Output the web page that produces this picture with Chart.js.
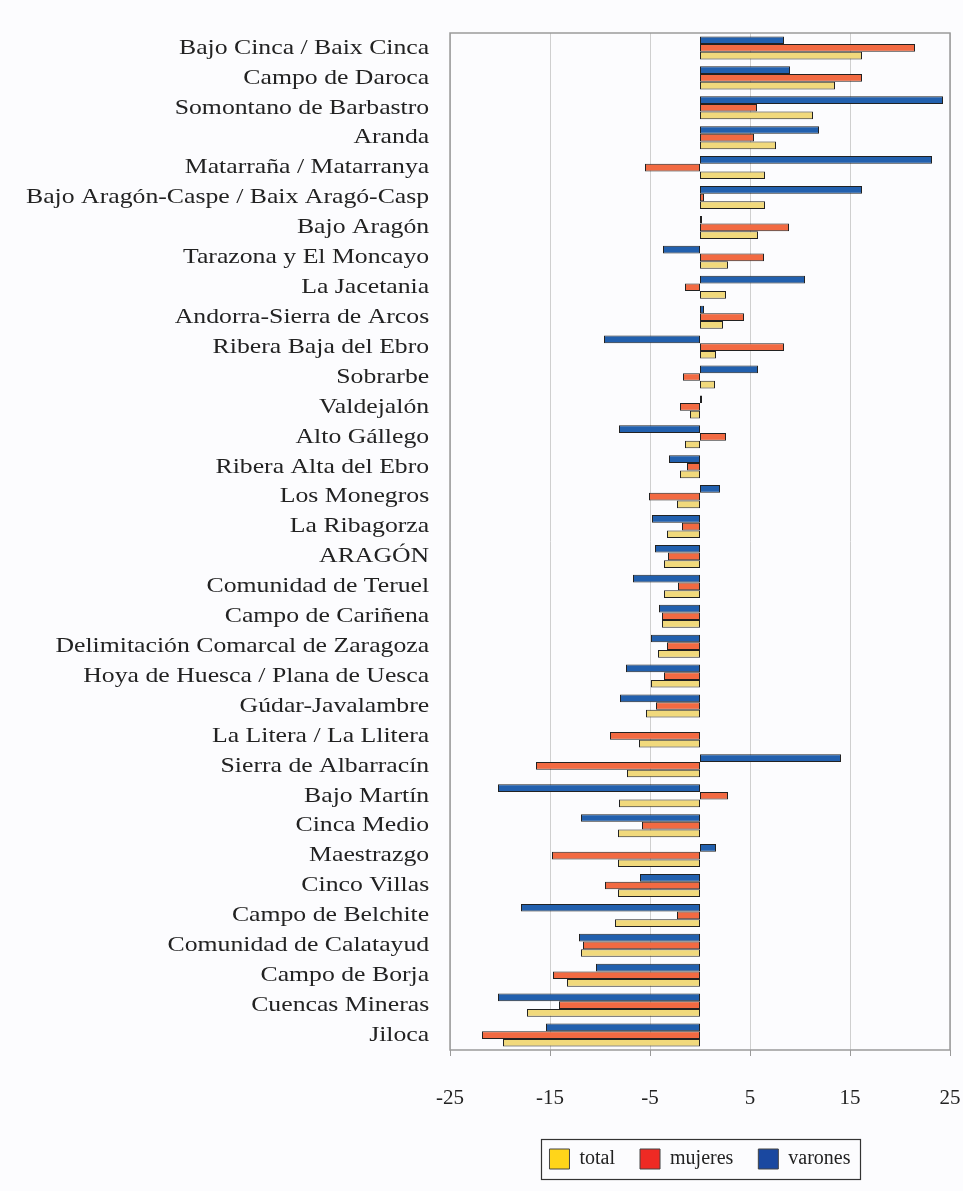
<!DOCTYPE html>
<html>
<head>
<meta charset="utf-8">
<script src="https://cdn.jsdelivr.net/npm/chart.js@4"></script>
<style>
  html, body { margin: 0; padding: 0; background: #fcfcfe; }
  #wrap { width: 963px; height: 1191px; position: relative; }
</style>
</head>
<body>
<div id="wrap"><canvas id="c" width="963" height="1191"></canvas></div>
<script>
const categories = [
  "Bajo Cinca / Baix Cinca", "Campo de Daroca", "Somontano de Barbastro", "Aranda",
  "Matarraña / Matarranya", "Bajo Aragón-Caspe / Baix Aragó-Casp", "Bajo Aragón",
  "Tarazona y El Moncayo", "La Jacetania", "Andorra-Sierra de Arcos", "Ribera Baja del Ebro",
  "Sobrarbe", "Valdejalón", "Alto Gállego", "Ribera Alta del Ebro", "Los Monegros",
  "La Ribagorza", "ARAGÓN", "Comunidad de Teruel", "Campo de Cariñena",
  "Delimitación Comarcal de Zaragoza", "Hoya de Huesca / Plana de Uesca", "Gúdar-Javalambre",
  "La Litera / La Llitera", "Sierra de Albarracín", "Bajo Martín", "Cinca Medio", "Maestrazgo",
  "Cinco Villas", "Campo de Belchite", "Comunidad de Calatayud", "Campo de Borja",
  "Cuencas Mineras", "Jiloca"
];
const total = [16.2, 13.5, 11.3, 7.6, 6.5, 6.5, 5.8, 2.8, 2.6, 2.3, 1.6, 1.5, -1.0, -1.5, -2.0, -2.3, -3.3, -3.6, -3.6, -3.8, -4.2, -4.9, -5.4, -6.1, -7.3, -8.1, -8.2, -8.2, -8.2, -8.5, -11.9, -13.3, -17.3, -19.7];
const mujeres = [21.5, 16.2, 5.7, 5.4, -5.5, 0.4, 8.9, 6.4, -1.5, 4.4, 8.4, -1.7, -2.0, 2.6, -1.3, -5.1, -1.8, -3.2, -2.2, -3.8, -3.3, -3.6, -4.4, -9.0, -16.4, 2.8, -5.8, -14.8, -9.5, -2.3, -11.7, -14.7, -14.1, -21.8];
const varones = [8.4, 9.0, 24.3, 11.9, 23.2, 16.2, 0.2, -3.7, 10.5, 0.4, -9.6, 5.8, 0.2, -8.1, -3.1, 2.0, -4.8, -4.5, -6.7, -4.1, -4.9, -7.4, -8.0, 0, 14.1, -20.2, -11.9, 1.6, -6.0, -17.9, -12.1, -10.4, -20.2, -15.4];
const seriesNames = ["total", "mujeres", "varones"];

const barColors = { total: "#f1d97c", mujeres: "#f26a42", varones: "#2260ae" };
const legendColors = { total: "#ffd51a", mujeres: "#ee2a24", varones: "#1a48a0" };
const serif = "'Liberation Serif', 'Times New Roman', serif";

const frame = {
  id: "frame",
  beforeDatasetsDraw(chart) {
    const a = chart.chartArea, ctx = chart.ctx;
    ctx.save();
    ctx.strokeStyle = "#9a9a9a";
    ctx.lineWidth = 1.5;
    ctx.strokeRect(a.left, a.top, a.right - a.left, a.bottom - a.top);
    ctx.restore();
  },
  afterDraw(chart) {
    const lg = chart.legend;
    if (!lg || !lg.legendHitBoxes || !lg.legendHitBoxes.length) return;
    const hb = lg.legendHitBoxes;
    let minX = Infinity, maxX = -Infinity, minY = Infinity, maxY = -Infinity;
    hb.forEach(b => {
      minX = Math.min(minX, b.left); maxX = Math.max(maxX, b.left + b.width);
      minY = Math.min(minY, b.top); maxY = Math.max(maxY, b.top + b.height);
    });
    const ctx = chart.ctx;
    ctx.save();
    ctx.strokeStyle = "#333";
    ctx.lineWidth = 1.2;
    ctx.strokeRect(Math.round(minX - 8) + 0.5, Math.round(minY - 10) + 0.5, Math.round(maxX - minX + 18), Math.round(maxY - minY + 20));
    ctx.restore();
  }
};

new Chart(document.getElementById("c"), {
  type: "bar",
  data: {
    labels: categories,
    datasets: [
      { label: seriesNames[2], data: varones, backgroundColor: barColors.varones },
      { label: seriesNames[1], data: mujeres, backgroundColor: barColors.mujeres },
      { label: seriesNames[0], data: total, backgroundColor: barColors.total }
    ].map(d => Object.assign(d, { borderColor: "#222", borderWidth: 1, borderSkipped: false, categoryPercentage: 0.77, barPercentage: 1.0 }))
  },
  options: {
    indexAxis: "y",
    responsive: false,
    animation: false,
    layout: { padding: { top: 33, right: 13, left: 0, bottom: 12 } },
    scales: {
      x: {
        min: -25, max: 25,
        ticks: { stepSize: 10, color: "#222", font: { family: serif, size: 21 }, padding: 30 },
        grid: { color: "#cfcfcf", lineWidth: 1, tickLength: 6, tickColor: "#9a9a9a" },
        border: { display: false },
        afterFit(scale) { scale.height = 74; scale.paddingLeft = 0; scale.paddingRight = 0; }
      },
      y: {
        ticks: { color: "#222", font: { family: serif, size: 22 }, padding: 13, autoSkip: false },
        grid: { display: false },
        border: { display: false },
        afterFit(scale) {
          scale.width = 450;
          scale.paddingTop = 0;
          scale.paddingBottom = 0;
          if (!scale._stretched) {
            const orig = scale.drawLabels.bind(scale);
            scale.drawLabels = function (area) {
              const ctx = this.ctx;
              const ax = 428;
              ctx.save();
              ctx.translate(ax, 0);
              ctx.scale(1.17, 1);
              ctx.translate(-ax, 0);
              orig(area);
              ctx.restore();
            };
            scale._stretched = true;
          }
        }
      }
    },
    plugins: {
      legend: {
        position: "bottom",
        fullSize: false,
        reverse: true,
        labels: {
          boxWidth: 20, boxHeight: 20, padding: 25, color: "#222",
          font: { family: serif, size: 20 },
          generateLabels(chart) {
            const items = Chart.defaults.plugins.legend.labels.generateLabels(chart);
            items.forEach(it => { it.fillStyle = legendColors[it.text]; it.strokeStyle = "#444"; it.lineWidth = 1; });
            return items;
          }
        }
      },
      tooltip: { enabled: false }
    }
  },
  plugins: [frame]
});
</script>
</body>
</html>
